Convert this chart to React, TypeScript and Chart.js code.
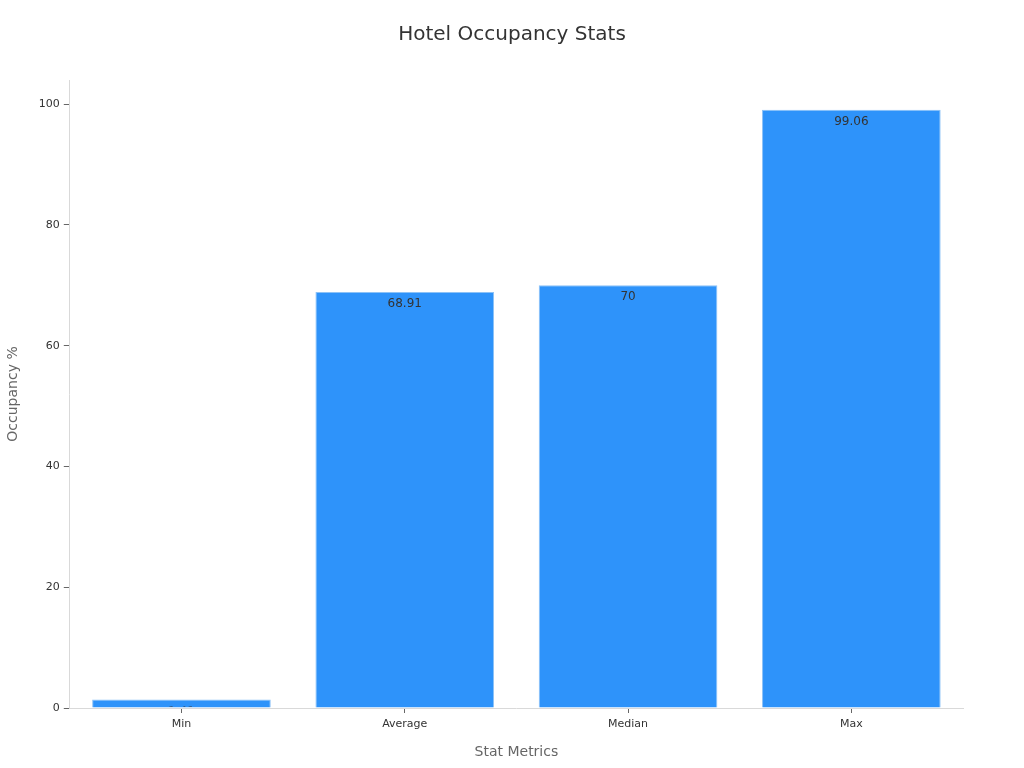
import React, { useEffect, useRef } from "react";
import { Chart, registerables } from "chart.js";

Chart.register(...registerables);

const categories = ["Min", "Average", "Median", "Max"];
const occupancy = [1.41, 68.91, 70, 99.06];
const valueLabels = ["1.41", "68.91", "70", "99.06"];
const chartTitle = "Hotel Occupancy Stats";

const FONT = "'DejaVu Sans', sans-serif";

// Writes each value just inside the top of its bar, clipped to the bar.
const barValueLabels = {
  id: "barValueLabels",
  afterDatasetsDraw(chart: any) {
    const { ctx } = chart;
    const meta = chart.getDatasetMeta(0);
    meta.data.forEach((bar: any, i: number) => {
      const p = bar.getProps(["x", "y", "base", "width"], true);
      ctx.save();
      ctx.beginPath();
      ctx.rect(p.x - p.width / 2, p.y + 1, p.width, p.base - p.y - 2);
      ctx.clip();
      ctx.fillStyle = "#333333";
      ctx.font = `12px ${FONT}`;
      ctx.textAlign = "center";
      ctx.textBaseline = "top";
      ctx.fillText(valueLabels[i], p.x, p.y + 6);
      ctx.restore();
    });
  },
};

// Title centred on the whole canvas rather than on the padded layout box.
const centredTitle = {
  id: "centredTitle",
  afterDraw(chart: any) {
    const { ctx, width } = chart;
    ctx.save();
    ctx.fillStyle = "#333333";
    ctx.font = `20px ${FONT}`;
    ctx.textAlign = "center";
    ctx.textBaseline = "middle";
    ctx.fillText(chartTitle, width / 2, 35);
    ctx.restore();
  },
};

export default function App() {
  const ref = useRef<HTMLCanvasElement | null>(null);

  useEffect(() => {
    document.body.style.margin = "0";
    const chart = new Chart(ref.current!, {
      type: "bar",
      data: {
        labels: categories,
        datasets: [
          {
            data: occupancy,
            backgroundColor: "#2E93FA",
            borderColor: "#8CC2F7",
            borderWidth: 1,
            barPercentage: 0.8,
            categoryPercentage: 1,
          },
        ],
      },
      options: {
        animation: false,
        responsive: false,
        layout: { padding: { top: 80, right: 61, left: 1, bottom: 3 } },
        plugins: {
          legend: { display: false },
          tooltip: { enabled: false },
          title: { display: false },
        },
        scales: {
          x: {
            grid: {
              display: true,
              offset: false,
              drawOnChartArea: false,
              drawTicks: true,
              tickLength: 5,
              color: "#666666",
            },
            border: { display: true, color: "#d9d9d9" },
            ticks: { color: "#333333", font: { family: FONT, size: 11 }, padding: 5 },
            title: {
              display: true,
              text: "Stat Metrics",
              color: "#666666",
              font: { family: FONT, size: 14 },
              padding: { top: 8 },
            },
          },
          y: {
            min: 0,
            max: 104,
            grid: {
              display: true,
              drawOnChartArea: false,
              drawTicks: true,
              tickLength: 6,
              color: "#666666",
            },
            border: { display: true, color: "#d9d9d9" },
            ticks: {
              stepSize: 20,
              includeBounds: false,
              color: "#333333",
              font: { family: FONT, size: 11 },
              padding: 4,
            },
            title: {
              display: true,
              text: "Occupancy %",
              color: "#666666",
              font: { family: FONT, size: 14 },
              padding: { bottom: 13 },
            },
          },
        },
      },
      plugins: [barValueLabels, centredTitle],
    });
    return () => chart.destroy();
  }, []);

  return (
    <div style={{ width: 1024, height: 768 }}>
      <canvas ref={ref} width={1024} height={768} />
    </div>
  );
}
